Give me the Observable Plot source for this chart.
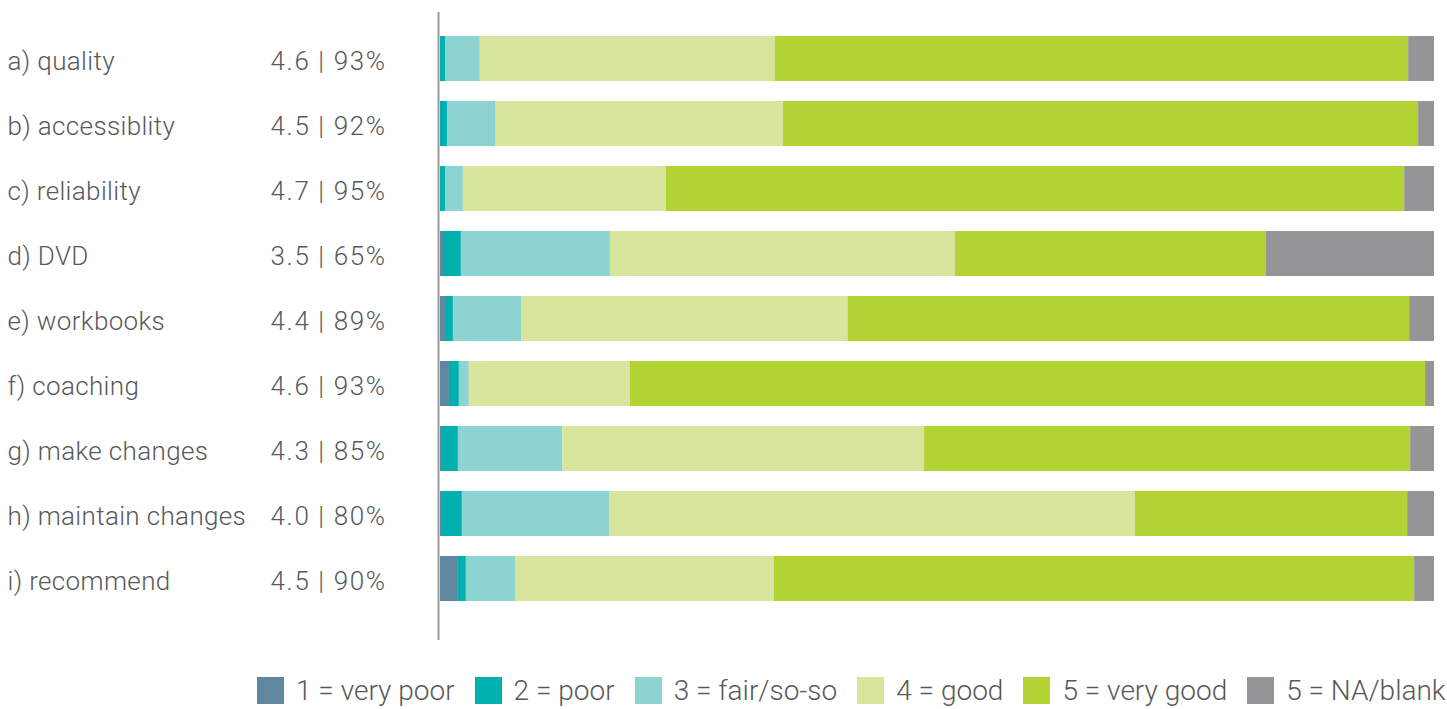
<!DOCTYPE html>
<html>
<head>
<meta charset="utf-8">
<script src="https://cdn.jsdelivr.net/npm/d3@7"></script>
<script src="https://cdn.jsdelivr.net/npm/@observablehq/plot@0.6"></script>
<style>
  html, body { margin: 0; padding: 0; background: #fff; overflow: hidden; width: 1447px; height: 709px; }
  #wrap { position: relative; width: 1447px; height: 709px; }
  #chart svg { display: block; }
  .vals text { letter-spacing: 1.6px; }
  .names text { letter-spacing: 0.35px; }
  .legend { position: absolute; left: 257px; top: 674px; display: flex; align-items: flex-start;
            font-family: Roboto, "Liberation Sans", sans-serif; font-weight: 300; font-size: 28px;
            color: #58595b; white-space: nowrap; }
  .item { display: flex; align-items: flex-start; margin-right: 20px; }
  .sw { width: 27px; height: 27px; margin-right: 12px; flex: none; margin-top: 3px; }
  .lab { line-height: 27px; margin-top: 3px; }
</style>
</head>
<body>
<div id="wrap">
  <div id="chart"></div>
  <div class="legend" id="legend"></div>
</div>
<script>
// ---- data ----
const items = ["a) quality", "b) accessiblity", "c) reliability", "d) DVD", "e) workbooks",
               "f) coaching", "g) make changes", "h) maintain changes", "i) recommend"];
const scores = ["4.6 | 93%", "4.5 | 92%", "4.7 | 95%", "3.5 | 65%", "4.4 | 89%",
                "4.6 | 93%", "4.3 | 85%", "4.0 | 80%", "4.5 | 90%"];
const seriesLabels = ["1 = very poor", "2 = poor", "3 = fair/so-so", "4 = good", "5 = very good", "5 = NA/blank"];
// percent of responses
const veryPoor = [0.0, 0.0, 0.0, 0.3, 0.5, 0.9, 0.2, 0.2, 1.8];
const poor     = [0.5, 0.7, 0.5, 1.8, 0.8, 1.0, 1.6, 2.0, 0.8];
const fair     = [3.5, 4.9, 1.8, 15.0, 6.9, 1.0, 10.5, 14.8, 5.0];
const good     = [29.7, 28.9, 20.4, 34.7, 32.8, 16.2, 36.4, 52.9, 26.0];
const veryGood = [63.7, 63.9, 74.3, 31.3, 56.5, 80.0, 48.9, 27.4, 64.4];
const naBlank  = [2.6, 1.6, 3.0, 16.9, 2.5, 0.9, 2.4, 2.7, 2.0];

const palette = ["#5f87a0", "#00b0ae", "#8dd3d1", "#d8e59c", "#b3d335", "#959598"];

const seriesValues = [veryPoor, poor, fair, good, veryGood, naBlank];
const table = [];
seriesLabels.forEach((s, si) => {
  items.forEach((it, i) => table.push({item: it, series: s, value: seriesValues[si][i]}));
});

const font = "Roboto, 'Liberation Sans', sans-serif";

const chart = Plot.plot({
  width: 1447,
  height: 662,
  marginTop: 12,
  marginBottom: 22,
  marginLeft: 440,
  marginRight: 13,
  style: {fontFamily: font, background: "#fff"},
  x: {domain: [0, 100], axis: null},
  y: {domain: items, axis: null, paddingInner: 0.306, paddingOuter: 0.46, align: 0.38},
  color: {domain: seriesLabels, range: palette},
  marks: [
    Plot.barX(table, {x: "value", y: "item", fill: "series", order: seriesLabels}),
    Plot.ruleX([0], {stroke: "#9a9a9a", strokeWidth: 2, dx: -2}),
    Plot.text(items, {y: d => d, text: d => d, frameAnchor: "left", textAnchor: "start",
                      dx: -433, dy: 3, fontSize: 26, fontWeight: 300, fill: "#58595b", className: "names"}),
    Plot.text(items, {y: d => d, text: (d, i) => scores[i], frameAnchor: "left", textAnchor: "end",
                      dx: -54, dy: 3, fontSize: 26, fontWeight: 300, fill: "#58595b", className: "vals"})
  ]
});
document.getElementById("chart").appendChild(chart);

// legend
const leg = document.getElementById("legend");
seriesLabels.forEach((s, i) => {
  const it = document.createElement("div");
  it.className = "item";
  const sw = document.createElement("div");
  sw.className = "sw";
  sw.style.background = palette[i];
  const lab = document.createElement("div");
  lab.className = "lab";
  lab.textContent = s;
  it.appendChild(sw); it.appendChild(lab);
  leg.appendChild(it);
});
</script>
</body>
</html>
